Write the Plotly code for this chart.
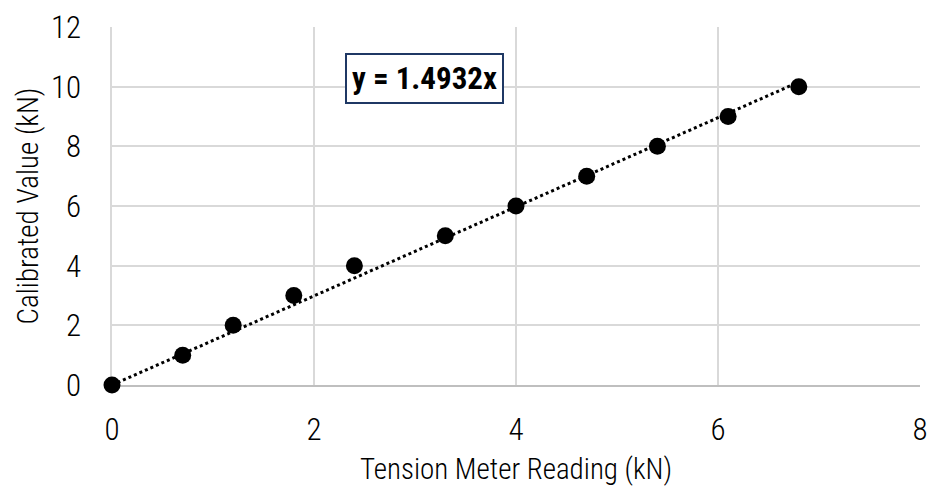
import plotly.graph_objects as go

x_reading = [0, 0.7, 1.2, 1.8, 2.4, 3.3, 4.0, 4.7, 5.4, 6.1, 6.8]
y_calibrated = [0, 1, 2, 3, 4, 5, 6, 7, 8, 9, 10]
slope = 1.4932
trend_x = [0, 6.8]
trend_y = [slope * v for v in trend_x]
x_ticks = [0, 2, 4, 6, 8]
y_ticks = [0, 2, 4, 6, 8, 10, 12]
equation_label = "y = 1.4932x"

FONT = "Roboto Condensed, Arial Narrow, sans-serif"
W = 350

fig = go.Figure()
fig.add_trace(go.Scatter(x=trend_x, y=trend_y, mode="lines",
                         line=dict(color="black", width=3, dash="dot"),
                         showlegend=False, hoverinfo="skip", cliponaxis=False))
fig.add_trace(go.Scatter(x=x_reading, y=y_calibrated, mode="markers",
                         marker=dict(color="black", size=17),
                         showlegend=False, cliponaxis=False))

fig.add_annotation(x=3.09, y=10.27, xref="x", yref="y",
                   text="<b>" + equation_label + "</b>", showarrow=False,
                   font=dict(family=FONT, size=31, color="black"),
                   bordercolor="#1f3864", borderwidth=2, borderpad=5,
                   bgcolor="white")

fig.update_layout(
    width=937, height=489,
    margin=dict(l=112, r=9, t=24, b=102),
    paper_bgcolor="white", plot_bgcolor="white",
    font=dict(family=FONT, size=31, color="black", weight=W),
    xaxis=dict(range=[0, 8], tickvals=x_ticks, showgrid=True, gridcolor="#d9d9d9",
               gridwidth=1.5, zeroline=False, showline=True, linecolor="#bfbfbf",
               linewidth=2, ticks="outside", ticklen=16, tickcolor="rgba(0,0,0,0)",
               layer="below traces",
               title=dict(text="Tension Meter Reading (kN)",
                          font=dict(size=29, weight=W), standoff=11),
               tickfont=dict(size=31, weight=W)),
    yaxis=dict(range=[0, 12], tickvals=y_ticks, showgrid=True, gridcolor="#d9d9d9",
               gridwidth=1.5, zeroline=False, showline=True, linecolor="#d9d9d9",
               linewidth=1.5, ticks="outside", ticklen=23, tickcolor="rgba(0,0,0,0)",
               layer="below traces",
               title=dict(text="Calibrated Value (kN)",
                          font=dict(size=29, weight=W), standoff=4),
               tickfont=dict(size=31, weight=W)),
)

fig.write_html("out.html", config={"displayModeBar": False},
               post_script="document.body.style.margin='0';")
